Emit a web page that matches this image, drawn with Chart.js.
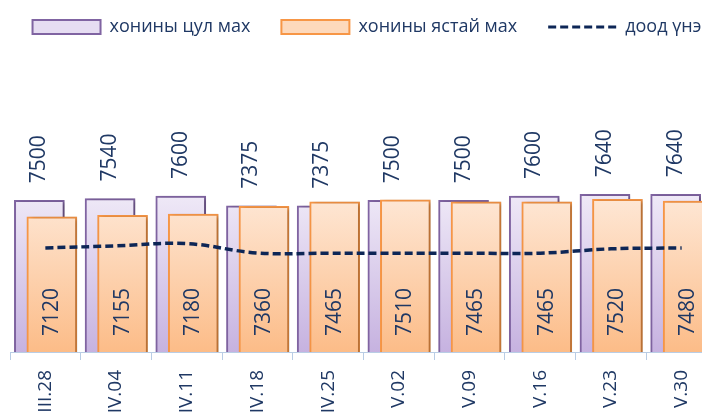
<!DOCTYPE html>
<html>
<head>
<meta charset="utf-8">
<script src="https://cdn.jsdelivr.net/npm/chart.js@4.4.1/dist/chart.umd.min.js"></script>
<style>
  html, body { margin: 0; padding: 0; background: #fff; overflow: hidden; }
  #wrap { width: 702px; height: 417px; overflow: hidden; }
</style>
</head>
<body>
<div id="wrap"><canvas id="myChart" width="734" height="432"></canvas></div>
<script>
// chart data
const dates = ['III.28', 'IV.04', 'IV.11', 'IV.18', 'IV.25', 'V.02', 'V.09', 'V.16', 'V.23', 'V.30'];
const tsulMah = [7500, 7540, 7600, 7375, 7375, 7500, 7500, 7600, 7640, 7640]; // хонины цул мах
const yastaiMah = [7120, 7155, 7180, 7360, 7465, 7510, 7465, 7465, 7520, 7480]; // хонины ястай мах
const doodUne = [6400, 6450, 6500, 6285, 6280, 6280, 6280, 6280, 6380, 6400]; // доод үнэ

const labelColor = '#1f3864';
const fontFamily = "'Open Sans', 'Liberation Sans', sans-serif";

// vertical gradient for the bars
function barGradient(top, bottom) {
    return (context) => {
        const chart = context.chart;
        if (!chart.chartArea) return bottom;
        const yScale = chart.scales.y;
        const g = chart.ctx.createLinearGradient(0, yScale.getPixelForValue(7640), 0, chart.chartArea.bottom);
        g.addColorStop(0, top);
        g.addColorStop(1, bottom);
        return g;
    };
}

// pushes the two bar series a little apart so they overlap like the original
const barOverlap = {
    id: 'barOverlap',
    afterDatasetsUpdate(chart) {
        chart.getDatasetMeta(0).data.forEach(b => { b.x -= 6; });
        chart.getDatasetMeta(1).data.forEach(b => { b.x += 6.5; });
    }
};

// soft shadow behind bars
const barShadow = {
    id: 'barShadow',
    beforeDatasetDraw(chart, args) {
        if (args.meta.type !== 'bar') return;
        const ctx = chart.ctx;
        ctx.save();
        ctx.shadowColor = 'rgba(0,0,0,0.28)';
        ctx.shadowBlur = 4;
        ctx.shadowOffsetX = 3;
        ctx.shadowOffsetY = 1;
    },
    afterDatasetDraw(chart, args) {
        if (args.meta.type !== 'bar') return;
        chart.ctx.restore();
    }
};

// rotated value labels
const valueLabels = {
    id: 'valueLabels',
    afterDatasetsDraw(chart) {
        const ctx = chart.ctx;
        const bottom = chart.chartArea.bottom;
        ctx.save();
        ctx.fillStyle = labelColor;
        ctx.font = '21px ' + fontFamily;
        ctx.textAlign = 'left';
        ctx.textBaseline = 'middle';
        chart.getDatasetMeta(0).data.forEach((bar, i) => {
            ctx.save();
            ctx.translate(bar.x, bar.y - 17);
            ctx.rotate(-Math.PI / 2);
            ctx.fillText(String(tsulMah[i]), 0, 0);
            ctx.restore();
        });
        chart.getDatasetMeta(1).data.forEach((bar, i) => {
            ctx.save();
            ctx.translate(bar.x, bottom - 16);
            ctx.rotate(-Math.PI / 2);
            ctx.fillText(String(yastaiMah[i]), 0, 0);
            ctx.restore();
        });
        ctx.restore();
    }
};

const legendFill = ['#e6ddf2', '#fdd9bc', 'rgba(0,0,0,0)'];

// empty side axes only keep the plot area in place
const sideAxis = (w) => ({
    display: true,
    grid: { display: false },
    border: { display: false },
    ticks: { display: false },
    afterFit: (scale) => { scale.width = w; }
});

const myChart = new Chart(document.getElementById('myChart'), {
    type: 'bar',
    data: {
        labels: dates,
        datasets: [{
            label: 'хонины цул мах',
            data: tsulMah,
            backgroundColor: barGradient('#efe9f7', '#c6b2e0'),
            borderColor: '#8064a2',
            borderWidth: 2,
            borderSkipped: 'bottom',
            barThickness: 50,
            grouped: false,
            order: 2
        }, {
            label: 'хонины ястай мах',
            data: yastaiMah,
            backgroundColor: barGradient('#fee8d7', '#fcbc88'),
            borderColor: '#f79646',
            borderWidth: 2,
            borderSkipped: 'bottom',
            barThickness: 50,
            grouped: false,
            order: 1
        }, {
            type: 'line',
            label: 'доод үнэ',
            data: doodUne,
            borderColor: '#0d2656',
            borderWidth: 3.5,
            borderDash: [8, 4],
            pointRadius: 0,
            tension: 0.4,
            fill: false,
            order: 0
        }]
    },
    options: {
        responsive: false,
        animation: false,
        layout: { padding: { left: 0, right: 0, top: -13, bottom: 0 } },
        plugins: {
            tooltip: { enabled: false },
            legend: {
                position: 'top',
                labels: {
                    usePointStyle: true,
                    pointStyleWidth: 68,
                    boxHeight: 14,
                    padding: 31,
                    color: labelColor,
                    font: { family: fontFamily, size: 18 },
                    generateLabels: (chart) => chart.data.datasets.map((ds, i) => ({
                        text: ds.label,
                        fillStyle: legendFill[i],
                        strokeStyle: ds.borderColor,
                        lineWidth: ds.type === 'line' ? 3 : ds.borderWidth,
                        lineDash: ds.borderDash || [],
                        pointStyle: ds.type === 'line' ? 'line' : 'rect',
                        fontColor: labelColor,
                        hidden: false,
                        datasetIndex: i
                    }))
                }
            }
        },
        scales: {
            x: {
                grid: { display: true, drawOnChartArea: false, tickLength: 8, color: '#b9cde5' },
                border: { display: true, color: '#b9cde5' },
                ticks: {
                    autoSkip: false,
                    minRotation: 90,
                    maxRotation: 90,
                    padding: 10,
                    color: labelColor,
                    font: { family: fontFamily, size: 19 }
                },
                afterFit: (scale) => { scale.height = 80; }
            },
            y: Object.assign(sideAxis(10), { position: 'left', min: 4000, max: 11060 }),
            y2: Object.assign(sideAxis(17), { position: 'right' })
        }
    },
    plugins: [barOverlap, barShadow, valueLabels]
});
</script>
</body>
</html>
